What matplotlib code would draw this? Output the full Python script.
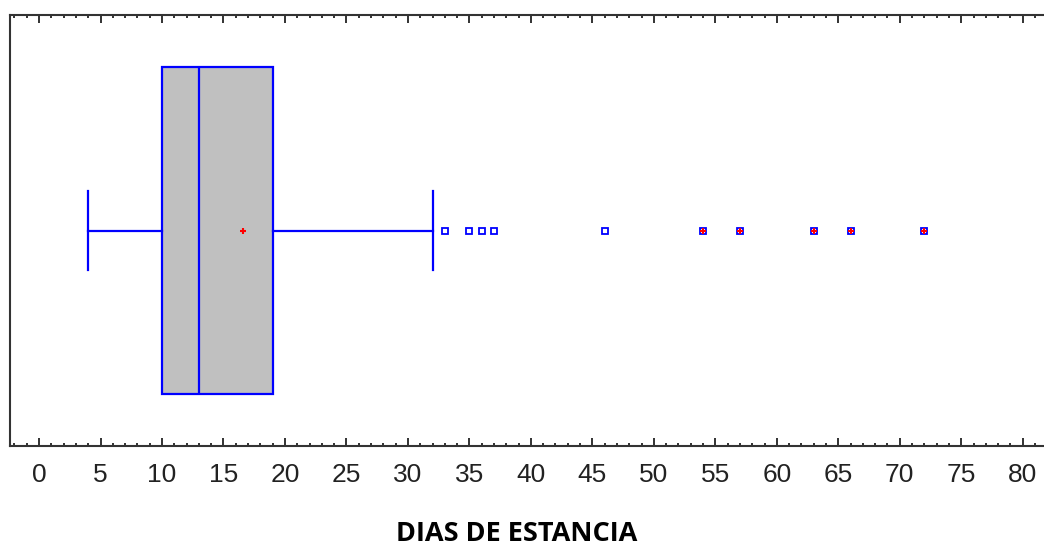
import matplotlib.pyplot as plt
from matplotlib.ticker import MultipleLocator

# --- data ---
whisker_lo, q1, median, q3, whisker_hi = 4, 10, 13, 19, 32
mean_val = 16.6
near_outliers = [33, 35, 36, 37, 46]
far_outliers = [54, 57, 63, 66, 72]
tick_values = list(range(0, 81, 5))
xlabel = "DIAS DE ESTANCIA"

BLUE = '#0000ff'

fig = plt.figure(figsize=(10.44, 5.45), dpi=100)
ax = fig.add_axes([10 / 1044, 1 - 446 / 545, 1 - 10 / 1044 + 0.002, 431 / 545])

stats = [dict(whislo=whisker_lo, q1=q1, med=median, q3=q3, whishi=whisker_hi,
              mean=mean_val, fliers=near_outliers + far_outliers, label='')]
ax.bxp(stats, positions=[0.5], widths=0.758, capwidths=0.184,
       orientation='horizontal', patch_artist=True, showmeans=True,
       boxprops=dict(facecolor='#c0c0c0', edgecolor=BLUE, linewidth=1.6),
       medianprops=dict(color=BLUE, linewidth=1.6),
       whiskerprops=dict(color=BLUE, linewidth=1.6),
       capprops=dict(color=BLUE, linewidth=1.6),
       meanprops=dict(marker='+', markeredgecolor='red', markersize=5,
                      markeredgewidth=1.5),
       flierprops=dict(marker='s', markerfacecolor='none', markeredgecolor=BLUE,
                       markersize=5, markeredgewidth=1.3))
# red crosses inside the far-out points
ax.plot(far_outliers, [0.5] * len(far_outliers), linestyle='none', marker='+',
        markeredgecolor='red', markersize=4, markeredgewidth=1.5)

ax.set_xlim(-2.36, 81.9)
ax.set_ylim(0, 1)
ax.set_yticks([])
ax.xaxis.set_major_locator(MultipleLocator(5))
ax.xaxis.set_minor_locator(MultipleLocator(1))
ax.set_xticks(tick_values)
ax.tick_params(axis='x', which='both', direction='in', top=True, bottom=True,
               color='#222222')
ax.tick_params(axis='x', which='major', length=6, width=1.3, pad=12,
               labelsize=19, labelcolor='#222222')
ax.tick_params(axis='x', which='minor', length=2.5, width=1.3)
for lab in ax.get_xticklabels():
    lab.set_family('Liberation Sans')

for side in ['left', 'top', 'bottom']:
    ax.spines[side].set_color('#333333')
    ax.spines[side].set_linewidth(1.5)
ax.spines['right'].set_visible(False)

fig.text(517 / 1044, 1 - 534 / 545, xlabel, ha='center', va='center',
         fontsize=19.5, fontweight='bold', family='Open Sans')

fig.savefig('out.png', dpi=100)
